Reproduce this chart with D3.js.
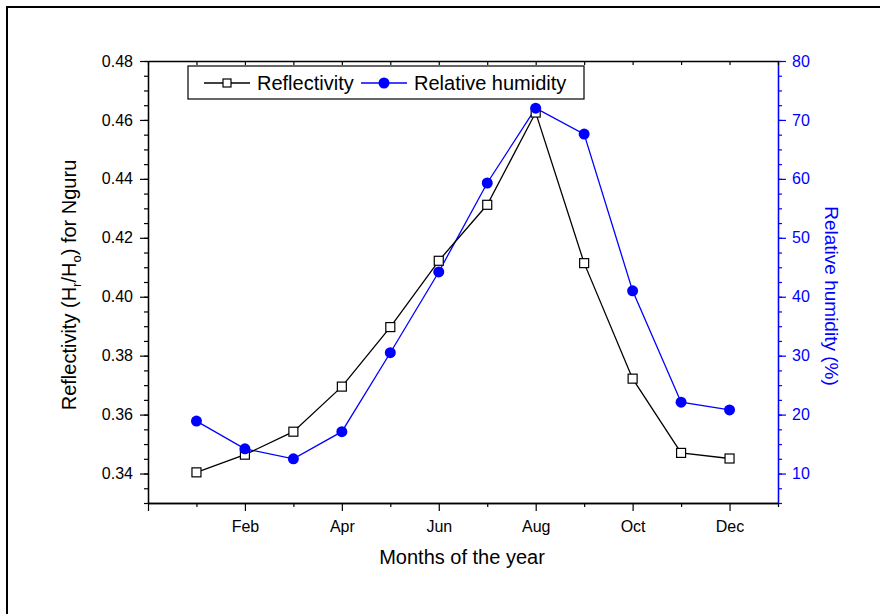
<!DOCTYPE html>
<html>
<head>
<meta charset="utf-8">
<script src="https://cdn.jsdelivr.net/npm/d3@7"></script>
<style>
  body { margin: 0; background: #fff; }
  svg { display: block; font-family: "Liberation Sans", Arial, sans-serif; }
</style>
</head>
<body>
<div id="vis"></div>
<script>
// dados
const months = [1, 2, 3, 4, 5, 6, 7, 8, 9, 10, 11, 12];
const reflectivity = [0.3404, 0.3464, 0.3542, 0.3695, 0.3897, 0.4122, 0.4312, 0.4625, 0.4114, 0.3722, 0.3470, 0.3451];
const humidity = [18.9, 14.2, 12.5, 17.1, 30.5, 44.2, 59.3, 72.0, 67.6, 41.0, 22.1, 20.8];
const monthTicks = [2, 4, 6, 8, 10, 12];
const monthLabels = ["Feb", "Apr", "Jun", "Aug", "Oct", "Dec"];
const leftTicks = [0.34, 0.36, 0.38, 0.40, 0.42, 0.44, 0.46, 0.48];
const rightTicks = [10, 20, 30, 40, 50, 60, 70, 80];

const W = 880, H = 614;
const plot = { left: 148, right: 778, top: 61, bottom: 503 };
const blue = "#0000ff";
const tickFont = 16;

const svg = d3.select("#vis").append("svg")
    .attr("width", W).attr("height", H);

// moldura
svg.append("rect")
    .attr("x", 7).attr("y", 7).attr("width", 1000).attr("height", 1000)
    .attr("fill", "none").attr("stroke", "#000").attr("stroke-width", 2);

// escalas
const x = d3.scaleLinear().domain([0, 13]).range([plot.left, plot.right]);
const yL = d3.scaleLinear().domain([0.33, 0.48]).range([plot.bottom, plot.top]);
const yR = d3.scaleLinear().domain([5, 80]).range([plot.bottom, plot.top]);

function styleAxis(g, color) {
    g.attr("font-size", tickFont).attr("font-family", "'Liberation Sans', Arial, sans-serif");
    g.select(".domain").attr("stroke", color).attr("stroke-width", 1.3);
    g.selectAll(".tick line").attr("stroke", color).attr("stroke-width", 1.2);
    g.selectAll(".tick text").attr("fill", color);
}

// eixo esquerdo
const minorL = d3.range(0, 31).map(i => 0.33 + i * 0.005);
svg.append("g")
    .attr("transform", `translate(${plot.left},0)`)
    .call(d3.axisLeft(yL).tickValues(minorL).tickSize(4).tickFormat("").tickSizeOuter(0))
    .call(g => styleAxis(g, "#000"));
svg.append("g")
    .attr("transform", `translate(${plot.left},0)`)
    .call(d3.axisLeft(yL).tickValues(leftTicks).tickSize(8).tickPadding(7).tickFormat(d3.format(".2f")).tickSizeOuter(0))
    .call(g => styleAxis(g, "#000"));

// eixo direito
const minorR = d3.range(0, 31).map(i => 5 + i * 2.5);
svg.append("g")
    .attr("transform", `translate(${plot.right},0)`)
    .call(d3.axisRight(yR).tickValues(minorR).tickSize(4).tickFormat("").tickSizeOuter(0))
    .call(g => styleAxis(g, blue));
svg.append("g")
    .attr("transform", `translate(${plot.right},0)`)
    .call(d3.axisRight(yR).tickValues(rightTicks).tickSize(8).tickPadding(6).tickSizeOuter(0))
    .call(g => styleAxis(g, blue));

// eixo inferior
const allMonths = d3.range(0, 14);
svg.append("g")
    .attr("transform", `translate(0,${plot.bottom})`)
    .call(d3.axisBottom(x).tickValues(allMonths.filter(m => m % 2 === 1)).tickSize(4).tickFormat("").tickSizeOuter(0))
    .call(g => styleAxis(g, "#000"));
svg.append("g")
    .attr("transform", `translate(0,${plot.bottom})`)
    .call(d3.axisBottom(x).tickValues([0].concat(monthTicks)).tickSize(8).tickPadding(10)
        .tickFormat(d => d === 0 ? "" : monthLabels[monthTicks.indexOf(d)]).tickSizeOuter(0))
    .call(g => styleAxis(g, "#000"));

// eixo superior (ticks para dentro)
svg.append("g")
    .attr("transform", `translate(0,${plot.top})`)
    .call(d3.axisBottom(x).tickValues(allMonths).tickSize(4).tickFormat("").tickSizeOuter(0))
    .call(g => styleAxis(g, "#000"));

// títulos dos eixos
const yTitle = svg.append("text")
    .attr("transform", `translate(76,${(plot.top + plot.bottom) / 2 + 3}) rotate(-90)`)
    .attr("text-anchor", "middle")
    .style("font-size", "20px")
    .attr("fill", "#000");
yTitle.append("tspan").text("Reflectivity (H");
yTitle.append("tspan").attr("dy", 5).style("font-size", "13px").text("r");
yTitle.append("tspan").attr("dy", -5).text("/H");
yTitle.append("tspan").attr("dy", 5).style("font-size", "13px").text("o");
yTitle.append("tspan").attr("dy", -5).text(") for Nguru");

svg.append("text")
    .attr("transform", `translate(825,${(plot.top + plot.bottom) / 2 + 14}) rotate(90)`)
    .attr("text-anchor", "middle")
    .style("font-size", "19px")
    .attr("fill", blue)
    .text("Relative humidity (%)");

svg.append("text")
    .attr("x", (plot.left + plot.right) / 2 - 1)
    .attr("y", 564)
    .attr("text-anchor", "middle")
    .style("font-size", "20px")
    .attr("fill", "#000")
    .text("Months of the year");

// séries
const refData = months.map((m, i) => ({ m, v: reflectivity[i] }));
const humData = months.map((m, i) => ({ m, v: humidity[i] }));

svg.append("path")
    .datum(humData)
    .attr("fill", "none").attr("stroke", blue).attr("stroke-width", 1.3)
    .attr("d", d3.line().x(d => x(d.m)).y(d => yR(d.v)));

svg.append("path")
    .datum(refData)
    .attr("fill", "none").attr("stroke", "#000").attr("stroke-width", 1.3)
    .attr("d", d3.line().x(d => x(d.m)).y(d => yL(d.v)));

svg.selectAll("rect.ref")
    .data(refData)
    .enter().append("rect")
    .attr("class", "ref")
    .attr("x", d => x(d.m) - 4.5).attr("y", d => yL(d.v) - 4.5)
    .attr("width", 9).attr("height", 9)
    .attr("fill", "#fff").attr("stroke", "#000").attr("stroke-width", 1.2);

svg.selectAll("circle.hum")
    .data(humData)
    .enter().append("circle")
    .attr("class", "hum")
    .attr("cx", d => x(d.m)).attr("cy", d => yR(d.v))
    .attr("r", 5.5)
    .attr("fill", blue);

// legenda
const leg = svg.append("g");
leg.append("rect")
    .attr("x", 188).attr("y", 66).attr("width", 396).attr("height", 33)
    .attr("fill", "#fff").attr("stroke", "#000").attr("stroke-width", 1.2);
leg.append("line").attr("x1", 204).attr("x2", 250).attr("y1", 83).attr("y2", 83)
    .attr("stroke", "#000").attr("stroke-width", 1.3);
leg.append("rect").attr("x", 223).attr("y", 79).attr("width", 8).attr("height", 8)
    .attr("fill", "#fff").attr("stroke", "#000").attr("stroke-width", 1.2);
leg.append("text").attr("x", 257).attr("y", 90)
    .style("font-size", "20px").text("Reflectivity");
leg.append("line").attr("x1", 361).attr("x2", 407).attr("y1", 83).attr("y2", 83)
    .attr("stroke", blue).attr("stroke-width", 1.3);
leg.append("circle").attr("cx", 384).attr("cy", 83).attr("r", 5.5).attr("fill", blue);
leg.append("text").attr("x", 414).attr("y", 90)
    .style("font-size", "20px").text("Relative humidity");
</script>
</body>
</html>
